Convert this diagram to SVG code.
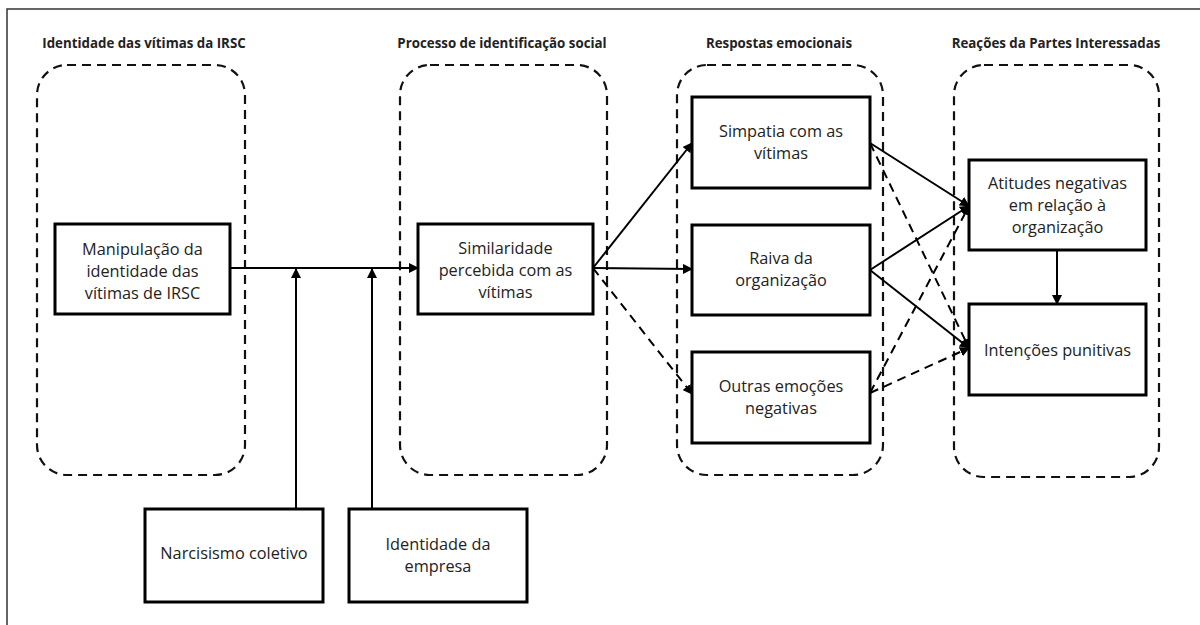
<svg xmlns="http://www.w3.org/2000/svg" width="1200" height="625" viewBox="0 0 1200 625">
  <style>
    .frame { fill: none; stroke: #333; stroke-width: 1.5; }
    .group { fill: none; stroke: #111; stroke-width: 2.2; stroke-dasharray: 9 6; }
    .title { font-family: "Open Sans", "Liberation Sans", sans-serif; font-weight: bold; font-size: 13.3px; fill: #222; text-anchor: middle; }
    .box { fill: #fff; stroke: #000; stroke-width: 3; }
    .label { font-family: "Open Sans", "Liberation Sans", sans-serif; font-size: 16.3px; fill: #222; text-anchor: middle; }
    .edge { fill: none; stroke: #000; stroke-width: 2; }
    .dashed { stroke-dasharray: 9 6; }
  </style>
  <defs>
    <marker id="arrow" viewBox="0 0 10 10" refX="9" refY="5" markerWidth="10" markerHeight="10" markerUnits="userSpaceOnUse" orient="auto">
      <path d="M0,0 L10,5 L0,10 z" fill="#000"/>
    </marker>
  </defs>

  <rect width="1200" height="625" fill="#fff"/>
  <path class="frame" d="M7,625 V9 H1200"/>

  <!-- stage containers -->
  <g id="stage-identity">
    <text class="title" x="144" y="48">Identidade das vítimas da IRSC</text>
    <rect class="group" x="37" y="65" width="208" height="410" rx="30"/>
  </g>
  <g id="stage-identification">
    <text class="title" x="502" y="48">Processo de identificação social</text>
    <rect class="group" x="400" y="65" width="207" height="410" rx="30"/>
  </g>
  <g id="stage-emotions">
    <text class="title" x="779" y="48">Respostas emocionais</text>
    <rect class="group" x="677" y="65" width="206" height="410" rx="30"/>
  </g>
  <g id="stage-reactions">
    <text class="title" x="1056" y="48">Reações da Partes Interessadas</text>
    <rect class="group" x="954" y="65" width="205" height="412" rx="30"/>
  </g>

  <!-- connectors -->
  <g id="connectors">
    <path class="edge" marker-end="url(#arrow)" d="M230,268 H418"/>
    <path class="edge" marker-end="url(#arrow)" d="M296,509 V269"/>
    <path class="edge" marker-end="url(#arrow)" d="M372,509 V269"/>
    <path class="edge" marker-end="url(#arrow)" d="M593,268 L692,143"/>
    <path class="edge" marker-end="url(#arrow)" d="M593,268 L692,269"/>
    <path class="edge dashed" marker-end="url(#arrow)" d="M593,268 L692,394"/>
    <path class="edge" marker-end="url(#arrow)" d="M870,143 L969,206"/>
    <path class="edge" marker-end="url(#arrow)" d="M870,270 L969,206"/>
    <path class="edge" marker-end="url(#arrow)" d="M870,270 L969,348"/>
    <path class="edge dashed" marker-end="url(#arrow)" d="M870,143 L969,348"/>
    <path class="edge dashed" marker-end="url(#arrow)" d="M870,393 L969,206"/>
    <path class="edge dashed" marker-end="url(#arrow)" d="M870,393 L969,348"/>
    <path class="edge" marker-end="url(#arrow)" d="M1057,250 V304"/>
  </g>

  <!-- nodes -->
  <g id="manipulacao">
    <rect class="box" x="55" y="224" width="175" height="90"/>
    <text class="label" x="142.5" y="255">Manipulação da</text>
    <text class="label" x="142.5" y="277">identidade das</text>
    <text class="label" x="142.5" y="299">vítimas de IRSC</text>
  </g>
  <g id="similaridade">
    <rect class="box" x="418" y="224" width="175" height="90"/>
    <text class="label" x="505.5" y="254">Similaridade</text>
    <text class="label" x="505.5" y="276">percebida com as</text>
    <text class="label" x="505.5" y="298">vítimas</text>
  </g>
  <g id="simpatia">
    <rect class="box" x="692" y="97" width="178" height="91"/>
    <text class="label" x="781" y="137">Simpatia com as</text>
    <text class="label" x="781" y="159">vítimas</text>
  </g>
  <g id="raiva">
    <rect class="box" x="692" y="225" width="178" height="90"/>
    <text class="label" x="781" y="264">Raiva da</text>
    <text class="label" x="781" y="286">organização</text>
  </g>
  <g id="outras">
    <rect class="box" x="692" y="352" width="178" height="91"/>
    <text class="label" x="781" y="392">Outras emoções</text>
    <text class="label" x="781" y="414">negativas</text>
  </g>
  <g id="atitudes">
    <rect class="box" x="969" y="160" width="177" height="90"/>
    <text class="label" x="1057.5" y="189">Atitudes negativas</text>
    <text class="label" x="1057.5" y="211">em relação à</text>
    <text class="label" x="1057.5" y="233">organização</text>
  </g>
  <g id="intencoes">
    <rect class="box" x="969" y="304" width="177" height="91"/>
    <text class="label" x="1057.5" y="356">Intenções punitivas</text>
  </g>
  <g id="narcisismo">
    <rect class="box" x="145" y="509" width="178" height="93"/>
    <text class="label" x="234" y="559">Narcisismo coletivo</text>
  </g>
  <g id="identidade-empresa">
    <rect class="box" x="349" y="509" width="178" height="93"/>
    <text class="label" x="438" y="550">Identidade da</text>
    <text class="label" x="438" y="572">empresa</text>
  </g>
</svg>
